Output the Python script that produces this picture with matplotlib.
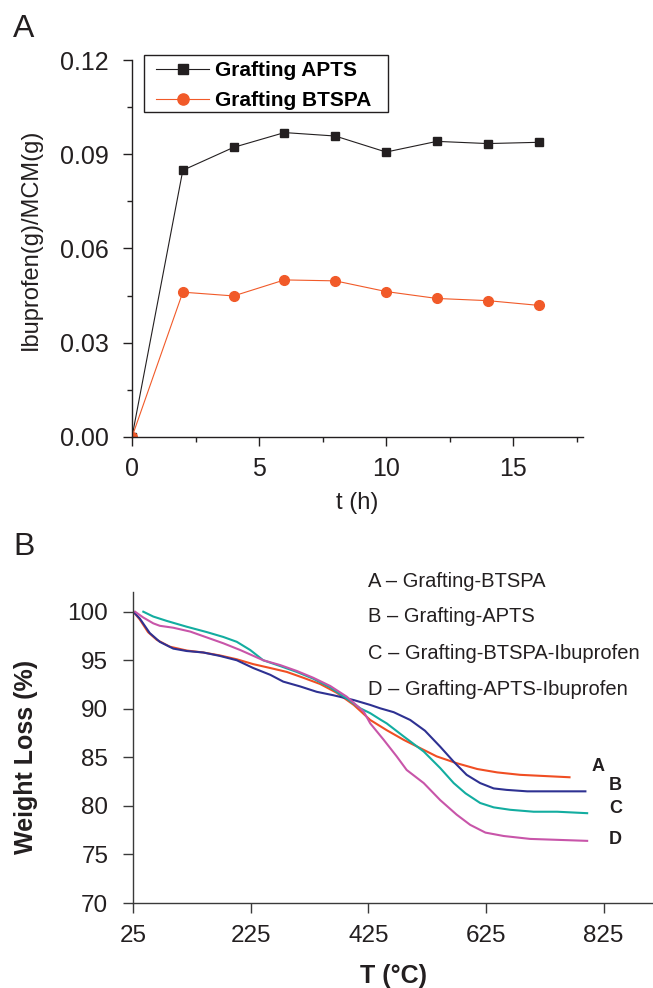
import matplotlib
matplotlib.use("Agg")
import matplotlib.pyplot as plt
from matplotlib.ticker import MultipleLocator, FixedLocator
from matplotlib.patches import Rectangle

plt.rcParams['font.family'] = ['Liberation Sans', 'DejaVu Sans']

# ---------------- Data: panel A ----------------
t_hours = [0, 2, 4, 6, 8, 10, 12, 14, 16]
apts_load = [0.0, 0.0849, 0.0922, 0.0969, 0.0958, 0.0907, 0.0941, 0.0934, 0.0938]
btspa_load = [0.0, 0.0461, 0.0449, 0.0500, 0.0497, 0.0463, 0.0441, 0.0434, 0.0419]
series_a_labels = ["Grafting APTS", "Grafting BTSPA"]
yticks_a = [0.00, 0.03, 0.06, 0.09, 0.12]
xticks_a = [0, 5, 10, 15]

# ---------------- Data: panel B (TGA) ----------------
A_T = [25, 36, 50, 65, 87, 116, 144, 172, 201, 229, 258, 286, 314, 343, 371, 400,
       428, 456, 485, 513, 541, 575, 610, 644, 683, 767]
A_W = [100, 99.2, 97.9, 97.1, 96.4, 96.0, 95.8, 95.5, 95.1, 94.6, 94.2, 93.8, 93.2,
       92.55, 91.65, 90.4, 88.85, 87.8, 86.8, 85.95, 85.1, 84.4, 83.8, 83.45, 83.2, 82.95]
B_T = [25, 36, 53, 70, 93, 116, 144, 172, 201, 229, 258, 280, 309, 337, 365, 400,
       428, 445, 468, 496, 521, 547, 570, 592, 615, 638, 660, 695, 794]
B_W = [100, 99.3, 97.8, 96.9, 96.2, 95.95, 95.8, 95.45, 95.0, 94.2, 93.5, 92.8, 92.3,
       91.75, 91.4, 90.9, 90.4, 90.05, 89.65, 88.85, 87.75, 86.1, 84.55, 83.2, 82.35,
       81.8, 81.65, 81.5, 81.5]
C_T = [42, 59, 82, 116, 150, 178, 201, 224, 246, 275, 303, 331, 360, 388, 411, 428,
       445, 456, 485, 519, 547, 570, 590, 615, 638, 666, 706, 746, 797]
C_W = [100, 99.5, 99.05, 98.45, 97.9, 97.4, 96.9, 96.05, 95.0, 94.4, 93.8, 93.1, 92.2,
       91.05, 90.05, 89.55, 88.9, 88.5, 87.15, 85.6, 83.9, 82.35, 81.3, 80.3, 79.85,
       79.6, 79.4, 79.4, 79.25]
D_T = [28, 42, 59, 70, 93, 122, 150, 178, 207, 246, 275, 303, 331, 360, 388, 417,
       428, 451, 473, 490, 519, 547, 575, 598, 624, 655, 700, 797]
D_W = [100, 99.4, 98.8, 98.55, 98.35, 97.95, 97.35, 96.75, 96.05, 95.0, 94.5, 93.9,
       93.2, 92.35, 91.25, 89.7, 88.5, 86.8, 85.1, 83.7, 82.35, 80.6, 79.1, 78.05,
       77.25, 76.9, 76.6, 76.4]
curve_letters = ["A", "B", "C", "D"]
curve_names = ["Grafting-BTSPA", "Grafting-APTS", "Grafting-BTSPA-Ibuprofen",
               "Grafting-APTS-Ibuprofen"]
label_T = [815, 845, 845, 845]
label_W = [84.07, 82.07, 79.75, 76.56]
xticks_b = [25, 225, 425, 625, 825]
yticks_b = [70, 75, 80, 85, 90, 95, 100]

DARK = '#231f20'
ORANGE = '#f15a29'
colors_b = ['#f04e23', '#2e3192', '#13ada0', '#c855a9']

W, H = 653, 988
fig = plt.figure(figsize=(W / 100, H / 100), dpi=100)

def px_rect(l, t, r, b):
    return [l / W, 1 - b / H, (r - l) / W, (b - t) / H]

# ---------------- Panel A ----------------
ax1 = fig.add_axes(px_rect(132, 60, 583, 437))
ax1.plot(t_hours, apts_load, color=DARK, lw=0.8, marker='s', ms=6.3,
         mfc=DARK, mec=DARK, label=series_a_labels[0])
ax1.plot(t_hours, btspa_load, color=ORANGE, lw=0.8, marker='o', ms=7,
         mfc=ORANGE, mec=ORANGE, label=series_a_labels[1])
ax1.set_xlim(0, 17.75)
ax1.set_ylim(0, 0.12)
ax1.xaxis.set_major_locator(FixedLocator(xticks_a))
ax1.xaxis.set_minor_locator(MultipleLocator(2.5))
ax1.yaxis.set_major_locator(FixedLocator(yticks_a))
ax1.yaxis.set_minor_locator(MultipleLocator(0.015))
ax1.set_yticklabels([f"{v:.2f}" for v in yticks_a])
for s in ['top', 'right']:
    ax1.spines[s].set_visible(False)
for s in ['left', 'bottom']:
    ax1.spines[s].set_color(DARK)
    ax1.spines[s].set_linewidth(1.0)
ax1.tick_params(which='major', direction='out', length=6.5, width=1.0,
                colors=DARK, labelsize=18)
ax1.tick_params(which='minor', direction='out', length=3.5, width=1.0, colors=DARK)
ax1.tick_params(axis='y', which='major', pad=10.5)
ax1.tick_params(axis='x', which='major', pad=8)
ax1.set_xlabel("t (h)", fontsize=17, color=DARK)
ax1.set_ylabel("Ibuprofen(g)/MCM(g)", fontsize=17, color=DARK)
ax1.yaxis.set_label_coords(-0.1996, 0.525)
ax1.xaxis.set_label_coords(0.5, -0.145)

# legend: frame drawn separately to match the original padding
frame = Rectangle((144 / W, 1 - 112 / H), (388 - 144) / W, (112 - 55) / H,
                  transform=fig.transFigure, facecolor='white', edgecolor=DARK,
                  lw=1.0, zorder=5)
fig.patches.append(frame)
leg = fig.legend(*ax1.get_legend_handles_labels(), loc='upper left',
                 bbox_to_anchor=(156 / W, 1 - 61.5 / H), borderaxespad=0, borderpad=0,
                 prop={'weight': 'bold', 'size': 15}, frameon=False,
                 handlelength=2.55, handletextpad=0.3, labelspacing=0.5,
                 markerscale=1.15)
leg.set_zorder(6)

# ---------------- Panel B ----------------
ax2 = fig.add_axes(px_rect(133.3, 591.7, 653, 903))
series = [(A_T, A_W), (B_T, B_W), (C_T, C_W), (D_T, D_W)]
for (tt, ww), c in zip(series, colors_b):
    ax2.plot(tt, ww, color=c, lw=1.5)
for let, lt, lw_ in zip(curve_letters, label_T, label_W):
    ax2.text(lt, lw_, let, ha='center', va='center', fontsize=13,
             fontweight='bold', color=DARK)
ax2.set_xlim(25, 909)
ax2.set_ylim(70, 102.06)
ax2.set_xticks(xticks_b)
ax2.set_yticks(yticks_b)
for s in ['top', 'right']:
    ax2.spines[s].set_visible(False)
for s in ['left', 'bottom']:
    ax2.spines[s].set_color('#3a3a3a')
    ax2.spines[s].set_linewidth(1.0)
ax2.tick_params(direction='out', length=7.5, width=1.0, colors='#3a3a3a',
                labelcolor=DARK, labelsize=17.5)
ax2.tick_params(axis='y', pad=10.5)
ax2.tick_params(axis='x', pad=8)
ax2.set_xlabel("T (\u00b0C)", fontsize=18, fontweight='bold', color=DARK)
ax2.set_ylabel("Weight Loss (%)", fontsize=18, fontweight='bold', color=DARK)
ax2.yaxis.set_label_coords(-0.183, 0.468)
ax2.xaxis.set_label_coords(0.5, -0.196)

baselines = [587, 622, 658.6, 695.4]
for let, name, yb in zip(curve_letters, curve_names, baselines):
    fig.text(368 / W, 1 - yb / H, f"{let} \u2013 {name}", fontsize=14.5,
             color=DARK, ha='left', va='baseline')

# Panel letters
fig.text(13 / W, 1 - 37 / H, "A", fontsize=23, color=DARK, ha='left', va='baseline')
fig.text(13 / W, 1 - 555 / H, "B", fontsize=23, color=DARK, ha='left', va='baseline')

fig.savefig("out.png", dpi=100)
